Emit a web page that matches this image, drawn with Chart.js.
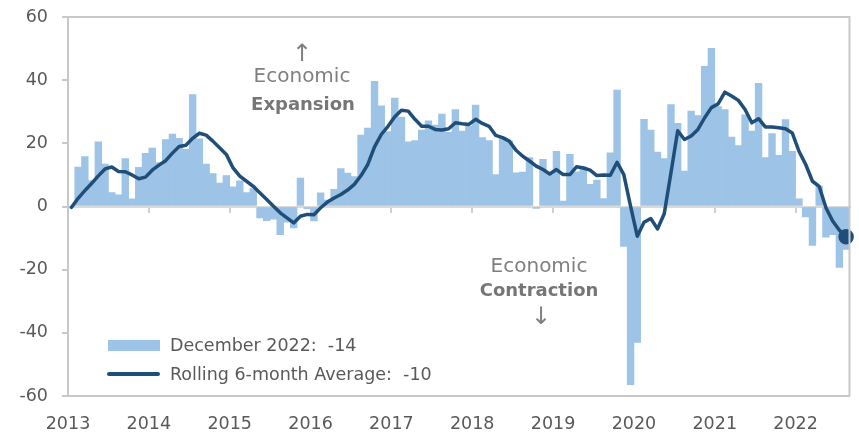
<!DOCTYPE html>
<html>
<head>
<meta charset="utf-8">
<script src="https://cdn.jsdelivr.net/npm/chart.js@4"></script>
<style>
  body { margin: 0; background: #fff; }
  #wrap { position: relative; width: 859px; height: 438px; font-family: "DejaVu Sans", sans-serif; }
  .note { position: absolute; transform: translate(-50%, -50%); color: #7f7f7f; white-space: nowrap; line-height: 1; }
  .note.big { font-size: 20px; }
  .note.bold { font-size: 18px; font-weight: bold; color: #767676; }
  .note.arrow { font-size: 24px; }
  .lg-text { position: absolute; transform: translateY(-50%); font-size: 17.5px; color: #595959; white-space: pre; line-height: 1; }
  .lg-bar { position: absolute; left: 108px; top: 340px; width: 52px; height: 11px; background: #9dc3e6; }
  .lg-line { position: absolute; left: 107px; top: 372px; width: 53px; height: 4px; background: #1f4e79; border-radius: 2px; }
</style>
</head>
<body>
<div id="wrap">
  <canvas id="chart" width="859" height="438"></canvas>

  <div class="note arrow" style="left:302px; top:53px">↑</div>
  <div class="note big" style="left:302px; top:75px">Economic</div>
  <div class="note bold" style="left:303px; top:104px">Expansion</div>

  <div class="note big" style="left:539px; top:265px">Economic</div>
  <div class="note bold" style="left:539px; top:290px">Contraction</div>
  <div class="note arrow" style="left:541px; top:316px">↓</div>

  <div class="lg-bar"></div>
  <div class="lg-text" id="lgBar" style="left:170px; top:346px"></div>
  <div class="lg-line"></div>
  <div class="lg-text" id="lgAvg" style="left:170px; top:375px"></div>
</div>

<script>
// --- datos ---
const yearLabels = ['2013', '2014', '2015', '2016', '2017', '2018', '2019', '2020', '2021', '2022'];
const monthNames = ['Jan', 'Feb', 'Mar', 'Apr', 'May', 'Jun', 'Jul', 'Aug', 'Sep', 'Oct', 'Nov', 'Dec'];

// monthly reading (bars)
const monthly = [
    0, 12.5, 15.8, 8.2, 20.5, 13.4, 4.4, 3.7, 15.2, 2.4, 12.4, 16.8,
    18.5, 13.9, 21.2, 22.9, 21.6, 18.1, 35.4, 21.4, 13.4, 10.4, 7.4, 9.8,
    6.2, 8.1, 4.4, 5.7, -3.6, -4.5, -4.0, -8.9, -5.0, -6.8, 9.0, -0.7,
    -4.6, 4.3, 2.0, 5.4, 12.0, 10.6, 9.5, 22.6, 24.8, 39.6, 31.9, 23.7,
    34.3, 28.3, 20.5, 20.9, 24.2, 27.1, 25.8, 29.3, 23.5, 30.7, 23.9, 25.4,
    32.1, 21.8, 20.9, 10.1, 22.0, 20.8, 10.7, 10.9, 15.5, -0.6, 14.9, 10.0,
    17.5, 1.7, 16.5, 11.0, 12.5, 7.0, 8.4, 2.5, 17.0, 36.9, -12.6, -56.4,
    -43.0, 27.6, 24.2, 17.2, 15.2, 32.3, 26.3, 11.2, 30.2, 28.8, 44.4, 50.1,
    31.6, 30.7, 22.0, 19.3, 29.0, 23.9, 39.0, 15.5, 23.1, 16.2, 27.5, 17.5,
    2.4, -3.3, -12.3, 6.5, -9.7, -8.9, -19.3, -13.6
];

// rolling 6-month average (line)
const rolling = [
    -0.3, 2.6, 5.0, 7.3, 9.7, 11.9, 12.5, 11.1, 11.0, 10.0, 8.8, 9.3,
    11.5, 13.1, 14.5, 16.9, 19.0, 19.4, 21.6, 23.2, 22.6, 20.7, 18.6, 16.5,
    12.2, 9.6, 8.0, 6.4, 4.3, 2.2, 0.1, -2.0, -3.6, -5.2, -3.1, -2.5,
    -2.6, -0.4, 1.4, 2.7, 3.8, 5.2, 7.0, 9.8, 13.3, 18.9, 22.8, 25.4,
    28.4, 30.5, 30.2, 27.6, 25.4, 25.4, 24.4, 24.2, 24.6, 26.5, 26.2, 26.0,
    27.6, 26.3, 25.4, 22.5, 21.8, 20.7, 17.8, 15.9, 14.4, 12.8, 11.7, 10.3,
    11.7, 10.1, 10.1, 12.6, 12.2, 11.5, 9.8, 10.0, 9.9, 14.0, 10.1, 0.1,
    -9.4, -5.0, -3.8, -7.1, -2.3, 10.7, 24.0, 21.2, 22.3, 24.4, 28.1, 31.3,
    32.5, 36.2, 35.0, 33.6, 30.7, 26.5, 27.8, 25.2, 25.2, 24.9, 24.6, 23.3,
    17.5, 13.3, 8.0, 6.4, -0.4, -4.6, -7.5, -9.6
];

const months = monthly.map((v, i) => monthNames[i % 12] + ' ' + yearLabels[Math.floor(i / 12)]);
const last = monthly.length - 1;

document.getElementById('lgBar').textContent = 'December 2022:  ' + Math.round(monthly[last]);
document.getElementById('lgAvg').textContent = 'Rolling 6-month Average:  ' + Math.round(rolling[last]);

const gris = '#595959';
const tickFont = { family: 'DejaVu Sans', size: 17.5 };

// borde superior y derecho del área
const marco = {
    id: 'marco',
    afterDraw(chart) {
        const { ctx, chartArea: a } = chart;
        ctx.save();
        ctx.strokeStyle = '#c8c8c8';
        ctx.lineWidth = 2;
        ctx.beginPath();
        ctx.moveTo(a.left, a.top);
        ctx.lineTo(a.right, a.top);
        ctx.lineTo(a.right, a.bottom);
        ctx.stroke();
        ctx.restore();
    }
};

new Chart(document.getElementById('chart').getContext('2d'), {
    type: 'bar',
    data: {
        labels: months,
        datasets: [{
            type: 'line',
            label: 'Rolling 6-month Average',
            data: rolling,
            borderColor: '#1f4e79',
            backgroundColor: '#1f4e79',
            borderWidth: 3.5,
            borderJoinStyle: 'round',
            borderCapStyle: 'round',
            tension: 0,
            clip: false,
            pointRadius: ctx => ctx.dataIndex === last ? 6 : 0,
            order: 0
        }, {
            label: 'December 2022',
            data: monthly,
            backgroundColor: '#9dc3e6',
            borderWidth: 0,
            barPercentage: 1,
            categoryPercentage: 1,
            order: 1
        }]
    },
    options: {
        responsive: false,
        animation: false,
        layout: { padding: { top: 17, right: 8, left: 0, bottom: 0 } },
        plugins: {
            legend: { display: false },
            tooltip: { enabled: false }
        },
        scales: {
            x: { type: 'category', display: false, offset: true },
            xZero: {
                type: 'linear',
                axis: 'x',
                position: { y: 0 },
                offset: false,
                min: 0,
                max: months.length,
                ticks: { display: false, stepSize: 12, includeBounds: false },
                grid: { offset: false, drawOnChartArea: false, tickLength: 5, tickColor: '#d0d0d0', lineWidth: 2 },
                border: { color: '#d9d9d9', width: 2 }
            },
            xYear: {
                type: 'linear',
                axis: 'x',
                position: 'bottom',
                offset: false,
                min: 0,
                max: months.length,
                ticks: {
                    stepSize: 12,
                    includeBounds: false,
                    autoSkip: false,
                    maxRotation: 0,
                    padding: 18,
                    color: gris,
                    font: tickFont,
                    callback: v => yearLabels[v / 12]
                },
                grid: { offset: false, display: false, drawTicks: false },
                border: { color: '#c8c8c8', width: 2 },
                afterFit: s => { s.height = 42; s.paddingLeft = 0; s.paddingRight = 0; }
            },
            y: {
                min: -60,
                max: 60,
                ticks: { stepSize: 20, padding: 14, color: gris, font: tickFont },
                grid: { drawOnChartArea: false, tickLength: 6, tickColor: '#c8c8c8', lineWidth: 2 },
                border: { color: '#c8c8c8', width: 2 },
                afterFit: s => { s.width = 68; s.paddingTop = 0; s.paddingBottom = 0; }
            }
        }
    },
    plugins: [marco]
});
</script>
</body>
</html>
